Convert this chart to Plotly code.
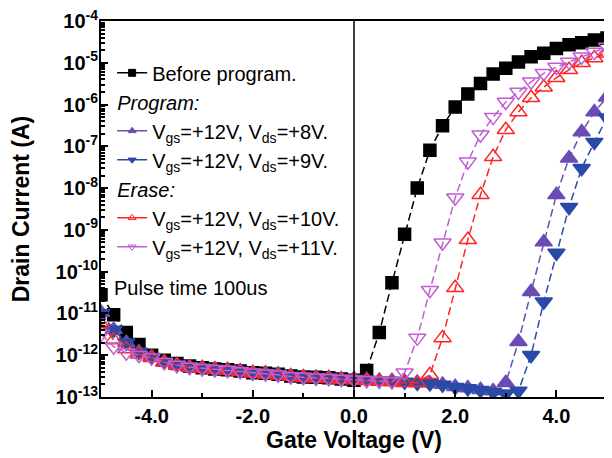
import plotly.graph_objects as go

# Gate voltage sweep (V)
vg = [-5.0, -4.75, -4.5, -4.25, -4.0, -3.75, -3.5, -3.25, -3.0, -2.75,
      -2.5, -2.25, -2.0, -1.75, -1.5, -1.25, -1.0, -0.75, -0.5, -0.25,
      0.0, 0.25, 0.5, 0.75, 1.0, 1.25, 1.5, 1.75, 2.0, 2.25,
      2.5, 2.75, 3.0, 3.25, 3.5, 3.75, 4.0, 4.25, 4.5, 4.75, 5.0]

# Drain current (A)
id_before = [2.8e-11, 9.3e-12, 3.5e-12, 1.8e-12, 1.0e-12, 7.6e-13, 6.3e-13, 5.5e-13, 5.0e-13, 4.7e-13,
             4.5e-13, 4.2e-13, 3.8e-13, 3.7e-13, 3.5e-13, 3.2e-13, 3.0e-13, 2.95e-13, 2.9e-13, 2.7e-13,
             2.5e-13, 4.3e-13, 3.5e-12, 5.4e-11, 7.9e-10, 1.0e-8, 8.1e-8, 3.1e-7, 8.7e-7, 1.8e-6,
             3.2e-6, 5.4e-6, 7.4e-6, 1.05e-5, 1.4e-5, 1.7e-5, 2.2e-5, 2.7e-5, 3.0e-5, 3.5e-5, 3.9e-5]

id_prog8 = [1.05e-11, 4.1e-12, 2.0e-12, 1.2e-12, 9.1e-13, 6.9e-13, 5.9e-13, 5.2e-13, 5.0e-13, 4.7e-13,
            4.5e-13, 4.2e-13, 3.8e-13, 3.7e-13, 3.5e-13, 3.2e-13, 3.0e-13, 2.95e-13, 2.9e-13, 2.7e-13,
            2.7e-13, 2.6e-13, 2.5e-13, 2.45e-13, 2.35e-13, 2.2e-13, 2.15e-13, 2.0e-13, 1.75e-13, 1.65e-13,
            1.5e-13, 1.4e-13, 2.2e-13, 2.1e-12, 3.3e-11, 5.1e-10, 6.9e-9, 5.2e-8, 2.2e-7, 6.6e-7, 1.5e-6]

id_prog9 = [1.0e-11, 4.0e-12, 2.0e-12, 1.2e-12, 9.0e-13, 6.9e-13, 5.8e-13, 5.2e-13, 4.9e-13, 4.6e-13,
            4.4e-13, 4.2e-13, 3.8e-13, 3.7e-13, 3.5e-13, 3.2e-13, 3.0e-13, 2.9e-13, 2.85e-13, 2.7e-13,
            2.65e-13, 2.55e-13, 2.45e-13, 2.4e-13, 2.3e-13, 2.15e-13, 2.1e-13, 1.95e-13, 1.7e-13, 1.6e-13,
            1.45e-13, 1.3e-13, 1.2e-13, 1.4e-13, 1.0e-12, 1.9e-11, 2.8e-10, 3.5e-9, 3.0e-8, 1.26e-7, 4.8e-7]

id_erase10 = [5.6e-12, 2.3e-12, 1.4e-12, 1.05e-12, 8.7e-13, 6.8e-13, 5.7e-13, 5.1e-13, 4.8e-13, 4.5e-13,
              4.3e-13, 4.0e-13, 3.7e-13, 3.5e-13, 3.3e-13, 3.1e-13, 2.9e-13, 2.8e-13, 2.75e-13, 2.6e-13,
              2.55e-13, 2.45e-13, 2.35e-13, 2.3e-13, 2.2e-13, 2.2e-13, 3.4e-13, 2.6e-12, 4.1e-11, 5.8e-10,
              6.9e-9, 5.6e-8, 2.5e-7, 6.6e-7, 1.45e-6, 2.6e-6, 4.4e-6, 6.8e-6, 1.0e-5, 1.3e-5, 1.7e-5]

id_erase11 = [3.2e-12, 1.6e-12, 1.15e-12, 1.0e-12, 8.7e-13, 6.8e-13, 5.8e-13, 5.2e-13, 4.9e-13, 4.6e-13,
              4.4e-13, 4.1e-13, 3.8e-13, 3.6e-13, 3.4e-13, 3.1e-13, 3.0e-13, 2.9e-13, 2.8e-13, 2.7e-13,
              2.6e-13, 2.5e-13, 2.45e-13, 2.35e-13, 3.8e-13, 2.6e-12, 3.6e-11, 4.9e-10, 5.9e-9, 4.3e-8,
              1.9e-7, 5.0e-7, 1.15e-6, 2.0e-6, 3.5e-6, 5.6e-6, 7.9e-6, 1.05e-5, 1.4e-5, 1.8e-5, 2.4e-5]

series = [
    dict(name="Before program.", y=id_before, color="#000000", symbol="square", size=12,
         group="before", title=None),
    dict(name="V<sub>gs</sub>=+12V, V<sub>ds</sub>=+8V.", y=id_prog8, color="#6a4cb4",
         symbol="triangle-up", size=15, group="program", title="<i>Program:</i>"),
    dict(name="V<sub>gs</sub>=+12V, V<sub>ds</sub>=+9V.", y=id_prog9, color="#2a4aa8",
         symbol="triangle-down", size=15, group="program", title="<i>Program:</i>"),
    dict(name="V<sub>gs</sub>=+12V, V<sub>ds</sub>=+10V.", y=id_erase10, color="#ff2424",
         symbol="triangle-up-open", size=15, group="erase", title="<i>Erase:</i>"),
    dict(name="V<sub>gs</sub>=+12V, V<sub>ds</sub>=+11V.", y=id_erase11, color="#bf5fd2",
         symbol="triangle-down-open", size=15, group="erase", title="<i>Erase:</i>"),
]

FONT = "Arial, Liberation Sans, sans-serif"
LEG = 20

fig = go.Figure()
for s in series:
    fig.add_trace(go.Scatter(
        x=vg, y=s["y"], name=s["name"], mode="lines+markers",
        showlegend=False,
        line=dict(color=s["color"], width=1.5, dash="8px,4px"),
        marker=dict(symbol=s["symbol"], size=s["size"], color=s["color"],
                    line=dict(color=s["color"], width=1.5))))

# legend entries (small symbols as in the original legend)
for s in series:
    kw = {}
    if s["title"]:
        kw["legendgrouptitle"] = dict(text=s["title"], font=dict(size=LEG, family=FONT, color="black"))
    fig.add_trace(go.Scatter(
        x=[None], y=[None], name=s["name"], mode="lines+markers",
        legendgroup=s["group"],
        line=dict(color=s["color"], width=1.5),
        marker=dict(symbol=s["symbol"], size=7, color=s["color"],
                    line=dict(color=s["color"], width=1)),
        **kw))

# vertical reference line at Vg = 0
fig.add_shape(type="line", xref="x", yref="paper", x0=0, x1=0, y0=0, y1=1,
              line=dict(color="black", width=1.5))

fig.add_annotation(text="Pulse time 100us", xref="paper", yref="paper",
                   x=0.022, y=0.29, xanchor="left", yanchor="middle", showarrow=False,
                   font=dict(size=LEG, family=FONT, color="black"))

ytickvals = [1e-13, 1e-12, 1e-11, 1e-10, 1e-9, 1e-8, 1e-7, 1e-6, 1e-5, 1e-4]
yticktext = ["10<sup>-13</sup>", "10<sup>-12</sup>", "10<sup>-11</sup>", "10<sup>-10</sup>",
             "10<sup>-9</sup>", "10<sup>-8</sup>", "10<sup>-7</sup>", "10<sup>-6</sup>",
             "10<sup>-5</sup>", "10<sup>-4</sup>"]
xtickvals = [-4, -2, 0, 2, 4]
xticktext = ["-4.0", "-2.0", "0.0", "2.0", "4.0"]

# page body has an 8px margin; figure sized so that it fits the 612x458 window
fig.update_layout(
    width=604, height=450,
    margin=dict(l=93, r=5, t=13, b=61),
    paper_bgcolor="white", plot_bgcolor="white",
    font=dict(family=FONT, color="black"),
    showlegend=True,
    legend=dict(x=0.022, y=0.914, xanchor="left", yanchor="top",
                bgcolor="rgba(0,0,0,0)", font=dict(size=LEG, family=FONT, color="black"),
                tracegroupgap=0, traceorder="grouped", itemsizing="trace"),
    xaxis=dict(range=[-5, 5], tickmode="array", tickvals=xtickvals, ticktext=xticktext,
               automargin=False,
               ticks="inside", ticklen=7, tickwidth=2, tickcolor="black",
               minor=dict(dtick=1, tick0=0, ticks="inside", ticklen=4, tickwidth=1.5, tickcolor="black"),
               showline=True, linecolor="black", linewidth=2, mirror=True,
               showgrid=False, zeroline=False,
               tickfont=dict(size=20, family=FONT, weight="bold"),
               title=dict(text="<b>Gate Voltage (V)</b>", font=dict(size=23, family=FONT), standoff=5)),
    yaxis=dict(type="log", range=[-13, -4], tickmode="array", tickvals=ytickvals, ticktext=yticktext,
               automargin=False, ticklabelstandoff=-3, ticklabeloverflow="allow",
               ticks="inside", ticklen=7, tickwidth=2, tickcolor="black",
               minor=dict(dtick="D1", ticks="inside", ticklen=4, tickwidth=1.5, tickcolor="black"),
               showline=True, linecolor="black", linewidth=2, mirror=True,
               showgrid=False, zeroline=False,
               tickfont=dict(size=20, family=FONT, weight="bold"),
               title=dict(text="<b>Drain Current (A)</b>", font=dict(size=23, family=FONT), standoff=20)),
)

fig.write_html("out.html")
